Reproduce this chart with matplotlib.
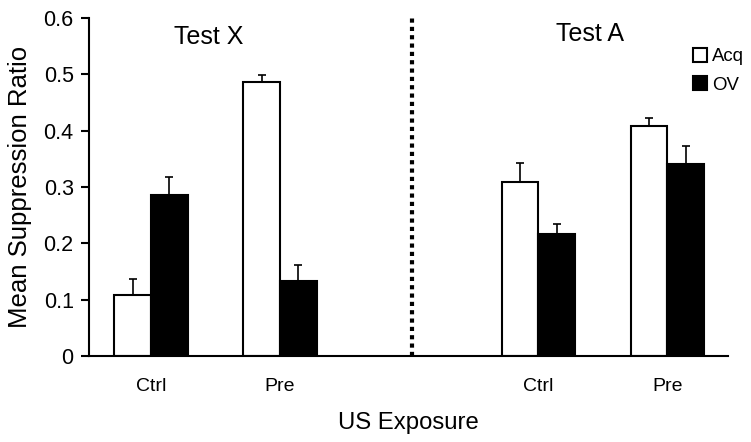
import numpy as np
import matplotlib.pyplot as plt

plt.rcParams['font.family'] = ['Liberation Sans', 'DejaVu Sans']

# data
groups = ['Ctrl', 'Pre', 'Ctrl', 'Pre']
acq_mean = [0.108, 0.486, 0.308, 0.409]
acq_sem = [0.029, 0.012, 0.035, 0.013]
ov_mean = [0.286, 0.133, 0.217, 0.341]
ov_sem = [0.031, 0.028, 0.018, 0.032]

pos = np.array([1, 2, 4, 5])
w = 0.285

fig = plt.figure(figsize=(7.51, 4.42), dpi=100)
ax = fig.add_axes([0.1185, 0.1946, 0.851, 0.7647])

ax.bar(pos - w / 2, acq_mean, w, color='white', edgecolor='black', linewidth=1.5, label='Acq')
ax.bar(pos + w / 2, ov_mean, w, color='black', edgecolor='black', linewidth=1.5, label='OV')
ax.errorbar(pos - w / 2, acq_mean, yerr=[np.zeros(4), acq_sem], fmt='none', ecolor='black', elinewidth=1.2, capsize=3, capthick=1.2)
ax.errorbar(pos + w / 2, ov_mean, yerr=[np.zeros(4), ov_sem], fmt='none', ecolor='black', elinewidth=1.2, capsize=3, capthick=1.2)

ax.axvline(3.02, color='black', linestyle=(0, (1, 1)), linewidth=3)

ax.set_xlim(0.52, 5.47)
ax.set_ylim(0, 0.6)
ax.set_yticks([0, 0.1, 0.2, 0.3, 0.4, 0.5, 0.6])
ax.set_yticklabels(['0', '0.1', '0.2', '0.3', '0.4', '0.5', '0.6'], fontsize=15.5)
ax.set_xticks(pos)
ax.set_xticklabels(groups, fontsize=14)
ax.tick_params(axis='x', length=0, pad=16)
ax.tick_params(axis='y', direction='out', length=6, width=1.5, pad=5)

ax.spines['top'].set_visible(False)
ax.spines['right'].set_visible(False)
ax.spines['left'].set_linewidth(1.5)
ax.spines['bottom'].set_linewidth(1.5)

ax.set_ylabel('Mean Suppression Ratio', fontsize=18.5, labelpad=8)
ax.set_xlabel('US Exposure', fontsize=17.2, labelpad=12)

ax.text(1.45, 0.567, 'Test X', fontsize=18, ha='center', va='center')
ax.text(4.40, 0.572, 'Test A', fontsize=18, ha='center', va='center')

ax.legend(loc='upper right', bbox_to_anchor=(1.045, 0.95), frameon=False, fontsize=13.4,
          handlelength=0.75, handleheight=0.75, handletextpad=0.25, labelspacing=0.6,
          borderpad=0.2)

fig.savefig('out.png', dpi=100)
